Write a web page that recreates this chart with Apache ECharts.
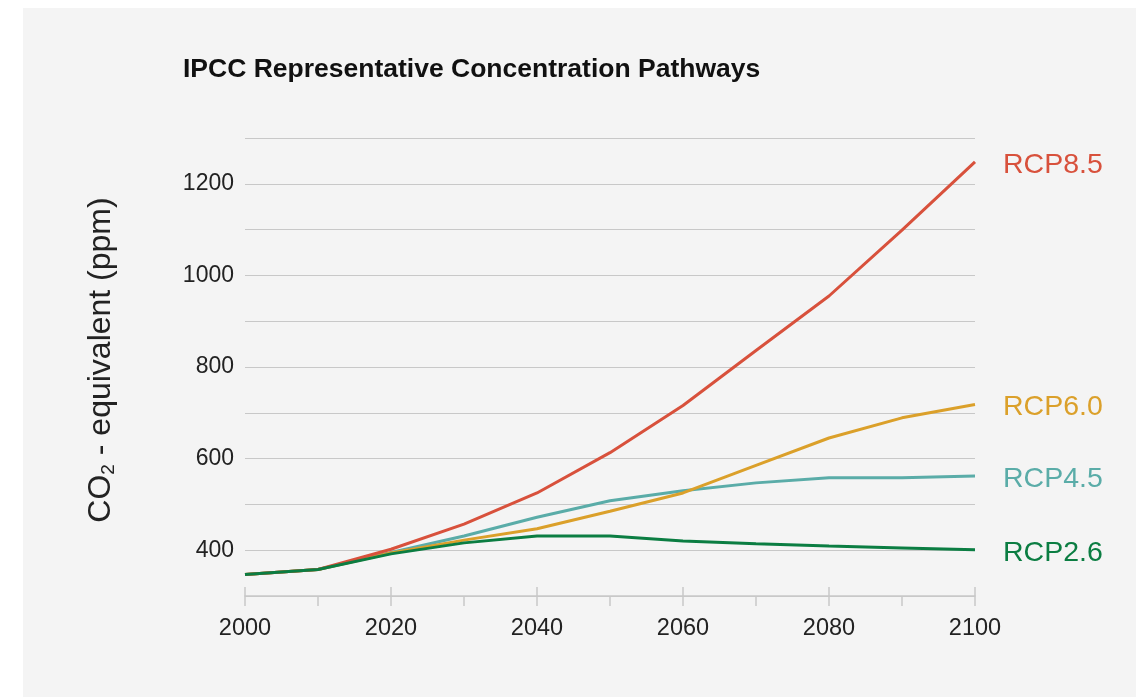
<!DOCTYPE html>
<html>
<head>
<meta charset="utf-8">
<script src="https://cdn.jsdelivr.net/npm/echarts@6/dist/echarts.min.js"></script>
<style>
html,body{margin:0;padding:0;background:#ffffff;}
#chart{width:1140px;height:697px;}
</style>
</head>
<body>
<div id="chart"></div>
<script>
const years = [2000, 2010, 2020, 2030, 2040, 2050, 2060, 2070, 2080, 2090, 2100];
const rcp85 = [347, 358, 402, 457, 525, 613, 716, 836, 955, 1099, 1248];
const rcp60 = [347, 358, 394, 422, 447, 485, 525, 585, 645, 689, 718];
const rcp45 = [347, 358, 395, 431, 472, 508, 530, 547, 558, 558, 562];
const rcp26 = [347, 358, 392, 416, 431, 431, 420, 414, 409, 405, 401];
const seriesNames = ['RCP8.5', 'RCP6.0', 'RCP4.5', 'RCP2.6'];
const seriesColors = ['#d8513c', '#dba02a', '#5aaca8', '#0b7d42'];
const seriesData = [rcp85, rcp60, rcp45, rcp26];
const titleText = 'IPCC Representative Concentration Pathways';

const chart = echarts.init(document.getElementById('chart'), null, {renderer: 'canvas'});
const font = '"Liberation Sans", Arial, Helvetica, sans-serif';

const option = {
  animation: false,
  backgroundColor: 'transparent',
  textStyle: {fontFamily: font},
  title: {
    text: titleText,
    left: 183, top: 56, padding: 0,
    textStyle: {fontFamily: font, fontWeight: 'bold', fontSize: 26.5, color: '#111111'}
  },
  graphic: [
    {type: 'rect', z: -10, silent: true, shape: {x: 23, y: 8, width: 1113, height: 700}, style: {fill: '#f4f4f4'}},
    {
      type: 'text', x: 101, y: 360, rotation: Math.PI / 2,
      style: {
        text: '{a|CO}{s|2}{a| - equivalent (ppm)}',
        align: 'center', verticalAlign: 'middle',
        rich: {
          a: {fontFamily: font, fontSize: 32, fill: '#222222'},
          s: {fontFamily: font, fontSize: 19, fill: '#222222', verticalAlign: 'bottom', padding: [15, 0, 0, 0]}
        }
      }
    }
  ],
  grid: {left: 245, right: 165, top: 138, bottom: 101, containLabel: false},
  xAxis: [
    {
      type: 'value', min: 2000, max: 2100, interval: 10,
      axisLine: {show: true, lineStyle: {color: '#c8c8c8', width: 1.5}},
      axisTick: {show: true, length: 10, lineStyle: {color: '#c8c8c8', width: 1.5}},
      splitLine: {show: false},
      axisLabel: {
        margin: 21, fontFamily: font, fontSize: 23.5, color: '#222222',
        formatter: v => (v % 20 === 0 ? String(v) : '')
      }
    },
    {
      type: 'value', min: 2000, max: 2100, interval: 20, position: 'bottom',
      axisLine: {show: false},
      axisTick: {show: true, inside: true, length: 9, lineStyle: {color: '#c8c8c8', width: 1.5}},
      splitLine: {show: false},
      axisLabel: {show: false}
    }
  ],
  yAxis: {
    type: 'value', min: 300, max: 1300, interval: 100,
    axisLine: {show: false}, axisTick: {show: false},
    splitLine: {show: true, lineStyle: {color: '#c8c8c8', width: 1}},
    axisLabel: {
      margin: 11, fontFamily: font, fontSize: 23, color: '#222222',
      formatter: v => (v % 200 === 0 && v >= 400 && v <= 1200 ? String(v) : '')
    }
  },
  series: seriesNames.map((name, i) => ({
    name: name,
    type: 'line',
    xAxisIndex: 0,
    data: years.map((y, j) => [y, seriesData[i][j]]),
    showSymbol: false,
    symbol: 'none',
    z: i === 3 ? 12 : 10 - i,
    lineStyle: {color: seriesColors[i], width: 3},
    itemStyle: {color: seriesColors[i]},
    endLabel: {
      show: true, distance: 28, formatter: name, offset: [0, 3],
      fontFamily: font, fontSize: 28.5, color: seriesColors[i]
    }
  }))
};
chart.setOption(option);
</script>
</body>
</html>
